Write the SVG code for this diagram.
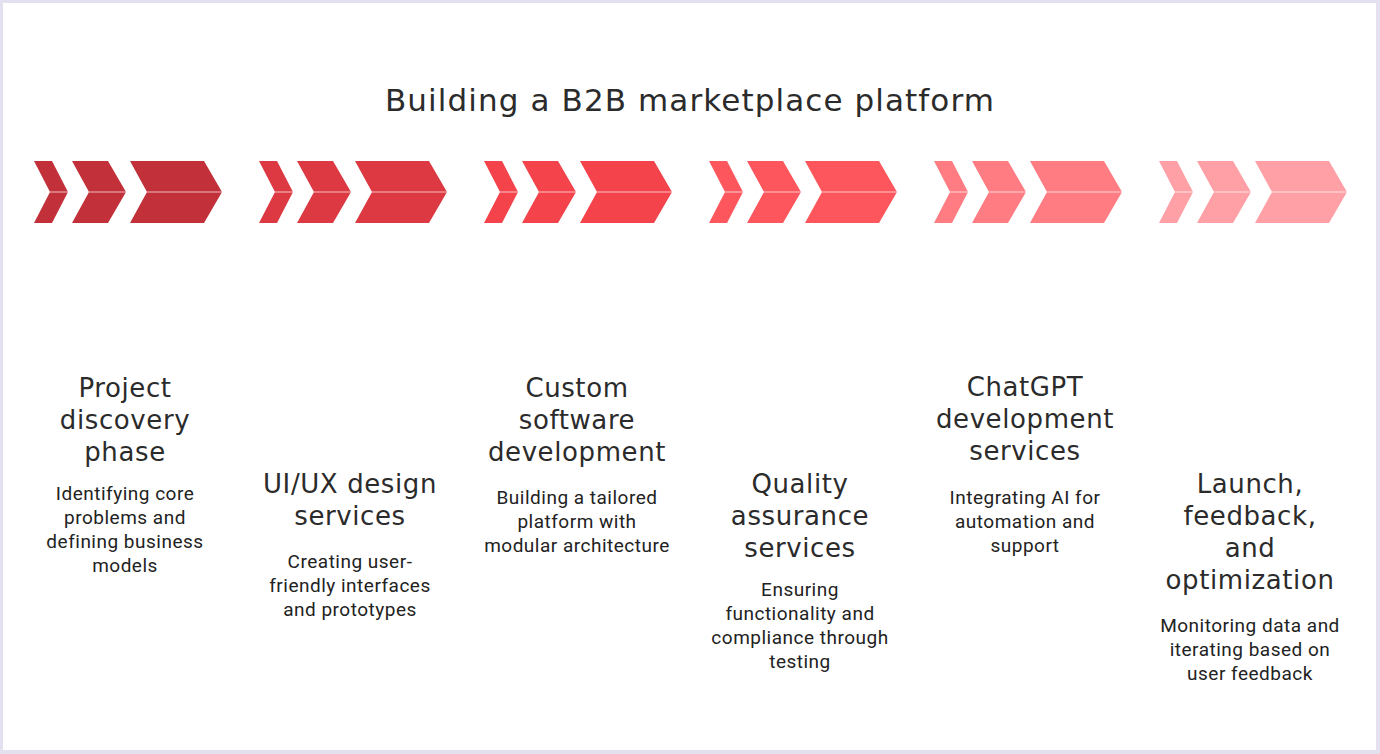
<svg xmlns="http://www.w3.org/2000/svg" xmlns:xlink="http://www.w3.org/1999/xlink" width="1380" height="754" viewBox="0 0 1380 754">
<style>
.title{font-family:"DejaVu Sans","Noto Sans",sans-serif;font-size:31px;letter-spacing:1.1px;fill:#2b2b2b;text-anchor:middle}
.head{font-family:"DejaVu Sans","Noto Sans",sans-serif;font-size:26px;letter-spacing:0.6px;fill:#2b2b2b;text-anchor:middle}
.desc{font-family:Roboto,"Liberation Sans",sans-serif;font-size:19px;letter-spacing:0.5px;fill:#222;text-anchor:middle}
.seam{stroke:#ffffff;stroke-opacity:0.45;stroke-width:1.6}
</style>
<defs>
<g id="chevs">
<polygon points="0,0 18,0 34,31 18,62 0,62 16,31"/>
<polygon points="38,0 74,0 92,31 74,62 38,62 55,31"/>
<polygon points="96,0 170,0 188,31 170,62 96,62 113,31"/>
<line class="seam" x1="16" y1="31" x2="34" y2="31"/>
<line class="seam" x1="55" y1="31" x2="92" y2="31"/>
<line class="seam" x1="113" y1="31" x2="188" y2="31"/>
</g>
</defs>
<rect x="0" y="0" width="1380" height="754" fill="#e3e1ef"/>
<rect x="3" y="3" width="1373" height="747" fill="#ffffff"/>
<text class="title" x="690" y="111">Building a B2B marketplace platform</text>

<g id="step1">
<use xlink:href="#chevs" x="34" y="161" fill="#c2303a"/>
<text class="head" x="125" y="397">Project</text>
<text class="head" x="125" y="429">discovery</text>
<text class="head" x="125" y="461">phase</text>
<text class="desc" x="125" y="500">Identifying core</text>
<text class="desc" x="125" y="524">problems and</text>
<text class="desc" x="125" y="548">defining business</text>
<text class="desc" x="125" y="572">models</text>
</g>

<g id="step2">
<use xlink:href="#chevs" x="259" y="161" fill="#dc3942"/>
<text class="head" x="350" y="493">UI/UX design</text>
<text class="head" x="350" y="525">services</text>
<text class="desc" x="350" y="568">Creating user-</text>
<text class="desc" x="350" y="592">friendly interfaces</text>
<text class="desc" x="350" y="616">and prototypes</text>
</g>

<g id="step3">
<use xlink:href="#chevs" x="484" y="161" fill="#f4434b"/>
<text class="head" x="577" y="397">Custom</text>
<text class="head" x="577" y="429">software</text>
<text class="head" x="577" y="461">development</text>
<text class="desc" x="577" y="504">Building a tailored</text>
<text class="desc" x="577" y="528">platform with</text>
<text class="desc" x="577" y="552">modular architecture</text>
</g>

<g id="step4">
<use xlink:href="#chevs" x="709" y="161" fill="#fd565d"/>
<text class="head" x="800" y="493">Quality</text>
<text class="head" x="800" y="525">assurance</text>
<text class="head" x="800" y="557">services</text>
<text class="desc" x="800" y="596">Ensuring</text>
<text class="desc" x="800" y="620">functionality and</text>
<text class="desc" x="800" y="644">compliance through</text>
<text class="desc" x="800" y="668">testing</text>
</g>

<g id="step5">
<use xlink:href="#chevs" x="934" y="161" fill="#fe7c82"/>
<text class="head" x="1025" y="396">ChatGPT</text>
<text class="head" x="1025" y="428">development</text>
<text class="head" x="1025" y="460">services</text>
<text class="desc" x="1025" y="504">Integrating AI for</text>
<text class="desc" x="1025" y="528">automation and</text>
<text class="desc" x="1025" y="552">support</text>
</g>

<g id="step6">
<use xlink:href="#chevs" x="1159" y="161" fill="#fea0a5"/>
<text class="head" x="1250" y="493">Launch,</text>
<text class="head" x="1250" y="525">feedback,</text>
<text class="head" x="1250" y="557">and</text>
<text class="head" x="1250" y="589">optimization</text>
<text class="desc" x="1250" y="632">Monitoring data and</text>
<text class="desc" x="1250" y="656">iterating based on</text>
<text class="desc" x="1250" y="680">user feedback</text>
</g>
</svg>
